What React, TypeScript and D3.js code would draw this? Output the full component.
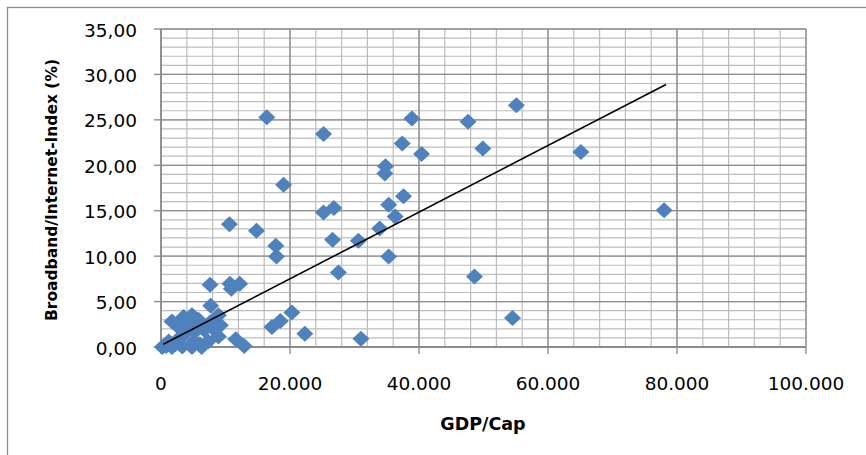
import * as d3 from 'd3'

// GDP per capita (x) and broadband/internet index in % (y)
const gdpCap = [
  16400, 25200, 38900, 47600, 55100, 37400, 40400, 49900, 65100, 34800,
  34700, 19000, 37600, 25200, 26800, 35300, 36300, 78000, 33900, 10600,
  14800, 17800, 17900, 26600, 30600, 35300, 27500, 48600, 7600, 10700,
  12200, 10900, 7700, 20300, 18500, 17200, 22300, 31000, 54500, 11600,
  12900,
  200, 800, 1700, 1200, 2800, 3300, 4800, 6300, 5100, 7300,
  3800, 5300, 6700, 8000, 2900, 4300, 9200, 1700, 3500, 4800,
  5800, 8900, 8900, 7600, 2200, 6000,
]
const broadband = [
  25.3, 23.45, 25.15, 24.8, 26.6, 22.4, 21.25, 21.85, 21.45, 19.9,
  19.1, 17.85, 16.6, 14.8, 15.3, 15.65, 14.35, 15.05, 13.05, 13.5,
  12.8, 11.15, 9.95, 11.8, 11.7, 9.95, 8.2, 7.75, 6.85, 6.95,
  6.95, 6.4, 4.55, 3.8, 2.85, 2.2, 1.45, 0.9, 3.2, 0.85,
  0.1,
  0.0, 0.1, 0.0, 0.6, 0.95, 0.05, 0.0, 0.0, 0.6, 0.6,
  1.5, 1.7, 1.9, 2.05, 2.05, 2.4, 2.4, 2.8, 3.3, 3.5,
  3.0, 3.5, 1.15, 2.7, 0.3, 0.3,
]

// linear trend line endpoints
const trendX = [360, 78300]
const trendY = [0.3, 28.9]

const xMajor = [0, 20000, 40000, 60000, 80000, 100000]
const yMajor = [0, 5, 10, 15, 20, 25, 30, 35]

const W = 866
const H = 455
const plot = { left: 161, right: 806, top: 29, bottom: 347 }

const locale = d3.formatLocale({ decimal: ',', thousands: '.', grouping: [3], currency: ['', ''] })
const fmtX = locale.format(',d')
const fmtY = locale.format('.2f')

export default function App() {
  const x = d3.scaleLinear().domain([0, 100000]).range([plot.left, plot.right])
  const y = d3.scaleLinear().domain([0, 35]).range([plot.bottom, plot.top])

  const xMinor = d3.range(0, 100001, 4000)
  const yMinor = d3.range(0, 35.01, 1)

  const diamond = 'M0,-8L8.5,0L0,8L-8.5,0Z'
  const trend = d3.line<number>()
    .x((d) => x(d))
    .y((_, i) => y(trendY[i]))

  const font = 'DejaVu Sans, Verdana, sans-serif'

  return (
    <svg width={W} height={H} style={{ position: 'absolute', left: 0, top: 0 }} fontFamily={font}>
      <rect x={0} y={0} width={W} height={H} fill="#fff" />
      <rect x={7.5} y={7.5} width={900} height={500} fill="none" stroke="#8a8a8a" strokeWidth={1.3} />

      {/* minor grid */}
      {xMinor.map((v) => (
        <line key={'xm' + v} x1={x(v)} x2={x(v)} y1={plot.top} y2={plot.bottom} stroke="#bdbdbd" strokeWidth={1.2} />
      ))}
      {yMinor.map((v) => (
        <line key={'ym' + v} x1={plot.left} x2={plot.right} y1={y(v)} y2={y(v)} stroke="#bdbdbd" strokeWidth={1.2} />
      ))}
      {/* major grid */}
      {xMajor.map((v) => (
        <line key={'xM' + v} x1={x(v)} x2={x(v)} y1={plot.top} y2={plot.bottom} stroke="#8c8c8c" strokeWidth={1.3} />
      ))}
      {yMajor.map((v) => (
        <line key={'yM' + v} x1={plot.left} x2={plot.right} y1={y(v)} y2={y(v)} stroke="#8c8c8c" strokeWidth={1.3} />
      ))}

      {/* axes + ticks */}
      <line x1={plot.left} x2={plot.left} y1={plot.top} y2={plot.bottom} stroke="#868686" strokeWidth={1.3} />
      <line x1={plot.left} x2={plot.right} y1={plot.bottom} y2={plot.bottom} stroke="#868686" strokeWidth={1.3} />
      {yMajor.map((v) => (
        <g key={'yt' + v}>
          <line x1={plot.left - 7} x2={plot.left} y1={y(v)} y2={y(v)} stroke="#868686" strokeWidth={1.3} />
          <text x={137} y={y(v) + 7.5} textAnchor="end" fontSize={18.5} fill="#000">{fmtY(v)}</text>
        </g>
      ))}
      {xMajor.map((v) => (
        <g key={'xt' + v}>
          <line x1={x(v)} x2={x(v)} y1={plot.bottom} y2={plot.bottom + 7} stroke="#868686" strokeWidth={1.3} />
          <text x={x(v)} y={390} textAnchor="middle" fontSize={18.5} fill="#000">{fmtX(v)}</text>
        </g>
      ))}

      {/* points */}
      {gdpCap.map((g, i) => (
        <path key={'p' + i} d={diamond} transform={`translate(${x(g)},${y(broadband[i])})`} fill="#4F81BD" />
      ))}

      {/* trend line */}
      <path d={trend(trendX) || ''} fill="none" stroke="#000" strokeWidth={1.6} />

      <text x={483} y={430} textAnchor="middle" fontSize={17.5} fontWeight="bold" fill="#000">GDP/Cap</text>
      <text transform="translate(57,190) rotate(-90)" textAnchor="middle" fontSize={15.5} fontWeight="bold" fill="#000"
        textLength={262} lengthAdjust="spacingAndGlyphs">
        Broadband/Internet-Index (%)
      </text>
    </svg>
  )
}
